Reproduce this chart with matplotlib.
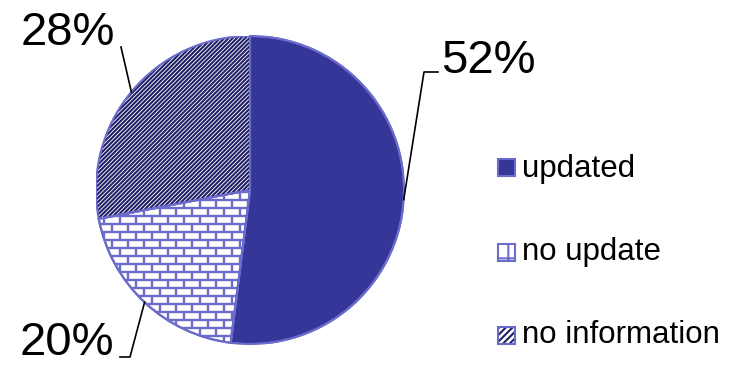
import numpy as np
import matplotlib.pyplot as plt
from matplotlib.patches import Wedge, Rectangle
from matplotlib.collections import LineCollection

labels = ['updated', 'no update', 'no information']
shares = [52, 20, 28]
pct_text = ['52%', '20%', '28%']

dark = '#363698'
edge = '#6b6bcc'
navy = '#1f1f66'

plt.rcParams['font.family'] = ['Liberation Sans', 'DejaVu Sans']
plt.rcParams['hatch.linewidth'] = 1.5

fig = plt.figure(figsize=(7.36, 3.66), dpi=100)
# pie centre at (250,190) px, radius 154 px
ax = fig.add_axes([96/736, (366-344)/366, 308/736, 308/366])

def d(x, y):  # pixel -> data coords
    return (x - 250) / 154, (190 - y) / 154

wedges, _ = ax.pie(shares, startangle=90, counterclock=False, radius=1)
ax.set_xlim(-1, 1)
ax.set_ylim(-1, 1)
ax.axis('off')

stripes = '/' * 8
wedges[0].set(facecolor=dark, edgecolor=edge, linewidth=1.5)
wedges[1].set(facecolor='white', edgecolor=edge, linewidth=1.5)
wedges[2].set(facecolor='white', edgecolor=navy, hatch=stripes, linewidth=0)

# brick pattern for "no update"
step = 8 / 154
segs = []
for i, y in enumerate(np.arange(-1, 1 + step, step)):
    segs.append([(-1, y), (1, y)])
    off = 0 if i % 2 == 0 else step
    for x in np.arange(-1 + off, 1, 2 * step):
        segs.append([(x, y), (x, y + step)])
bricks = LineCollection(segs, colors=edge, linewidths=1.7, zorder=2)
ax.add_collection(bricks)
bricks.set_clip_path(wedges[1])

# outlines on top
for w in wedges:
    ax.add_patch(Wedge((0, 0), 1, w.theta1, w.theta2, fill=False,
                       edgecolor=edge, linewidth=1.5, zorder=3))

# percentage labels with leader lines
leader_pts = [[d(424, 72), d(438, 72)], [d(130, 357), d(120, 357)], [d(121, 47)]]
label_pos = [d(488, 73), d(67, 355), d(68, 45)]
for w, txt, pts, pos in zip(wedges, pct_text, leader_pts, label_pos):
    a = np.deg2rad((w.theta1 + w.theta2) / 2)
    xs = [np.cos(a)] + [p[0] for p in pts]
    ys = [np.sin(a)] + [p[1] for p in pts]
    ax.plot(xs, ys, color='black', linewidth=1.2, clip_on=False, zorder=4)
    ax.text(pos[0], pos[1], txt, fontsize=34, ha='center', va='baseline',
            clip_on=False)

# legend
sq = 17 / 154
box_y = [167, 252, 335]
text_y = [177, 260, 343]
styles = [dict(facecolor=dark, edgecolor=edge),
          dict(facecolor='white', edgecolor=edge, hatch='+'),
          dict(facecolor='white', edgecolor=navy, hatch='/' * 5)]
for lab, by, ty, st in zip(labels, box_y, text_y, styles):
    cx, cy = d(506, by)
    ax.add_patch(Rectangle((cx - sq / 2, cy - sq / 2), sq, sq, linewidth=0,
                           clip_on=False, **st))
    ax.add_patch(Rectangle((cx - sq / 2, cy - sq / 2), sq, sq, fill=False,
                           edgecolor=edge, linewidth=1.5, clip_on=False))
    tx, tyd = d(522, ty)
    ax.text(tx, tyd, lab, fontsize=22.5, ha='left', va='baseline', clip_on=False)

fig.savefig('out.png', dpi=100)
